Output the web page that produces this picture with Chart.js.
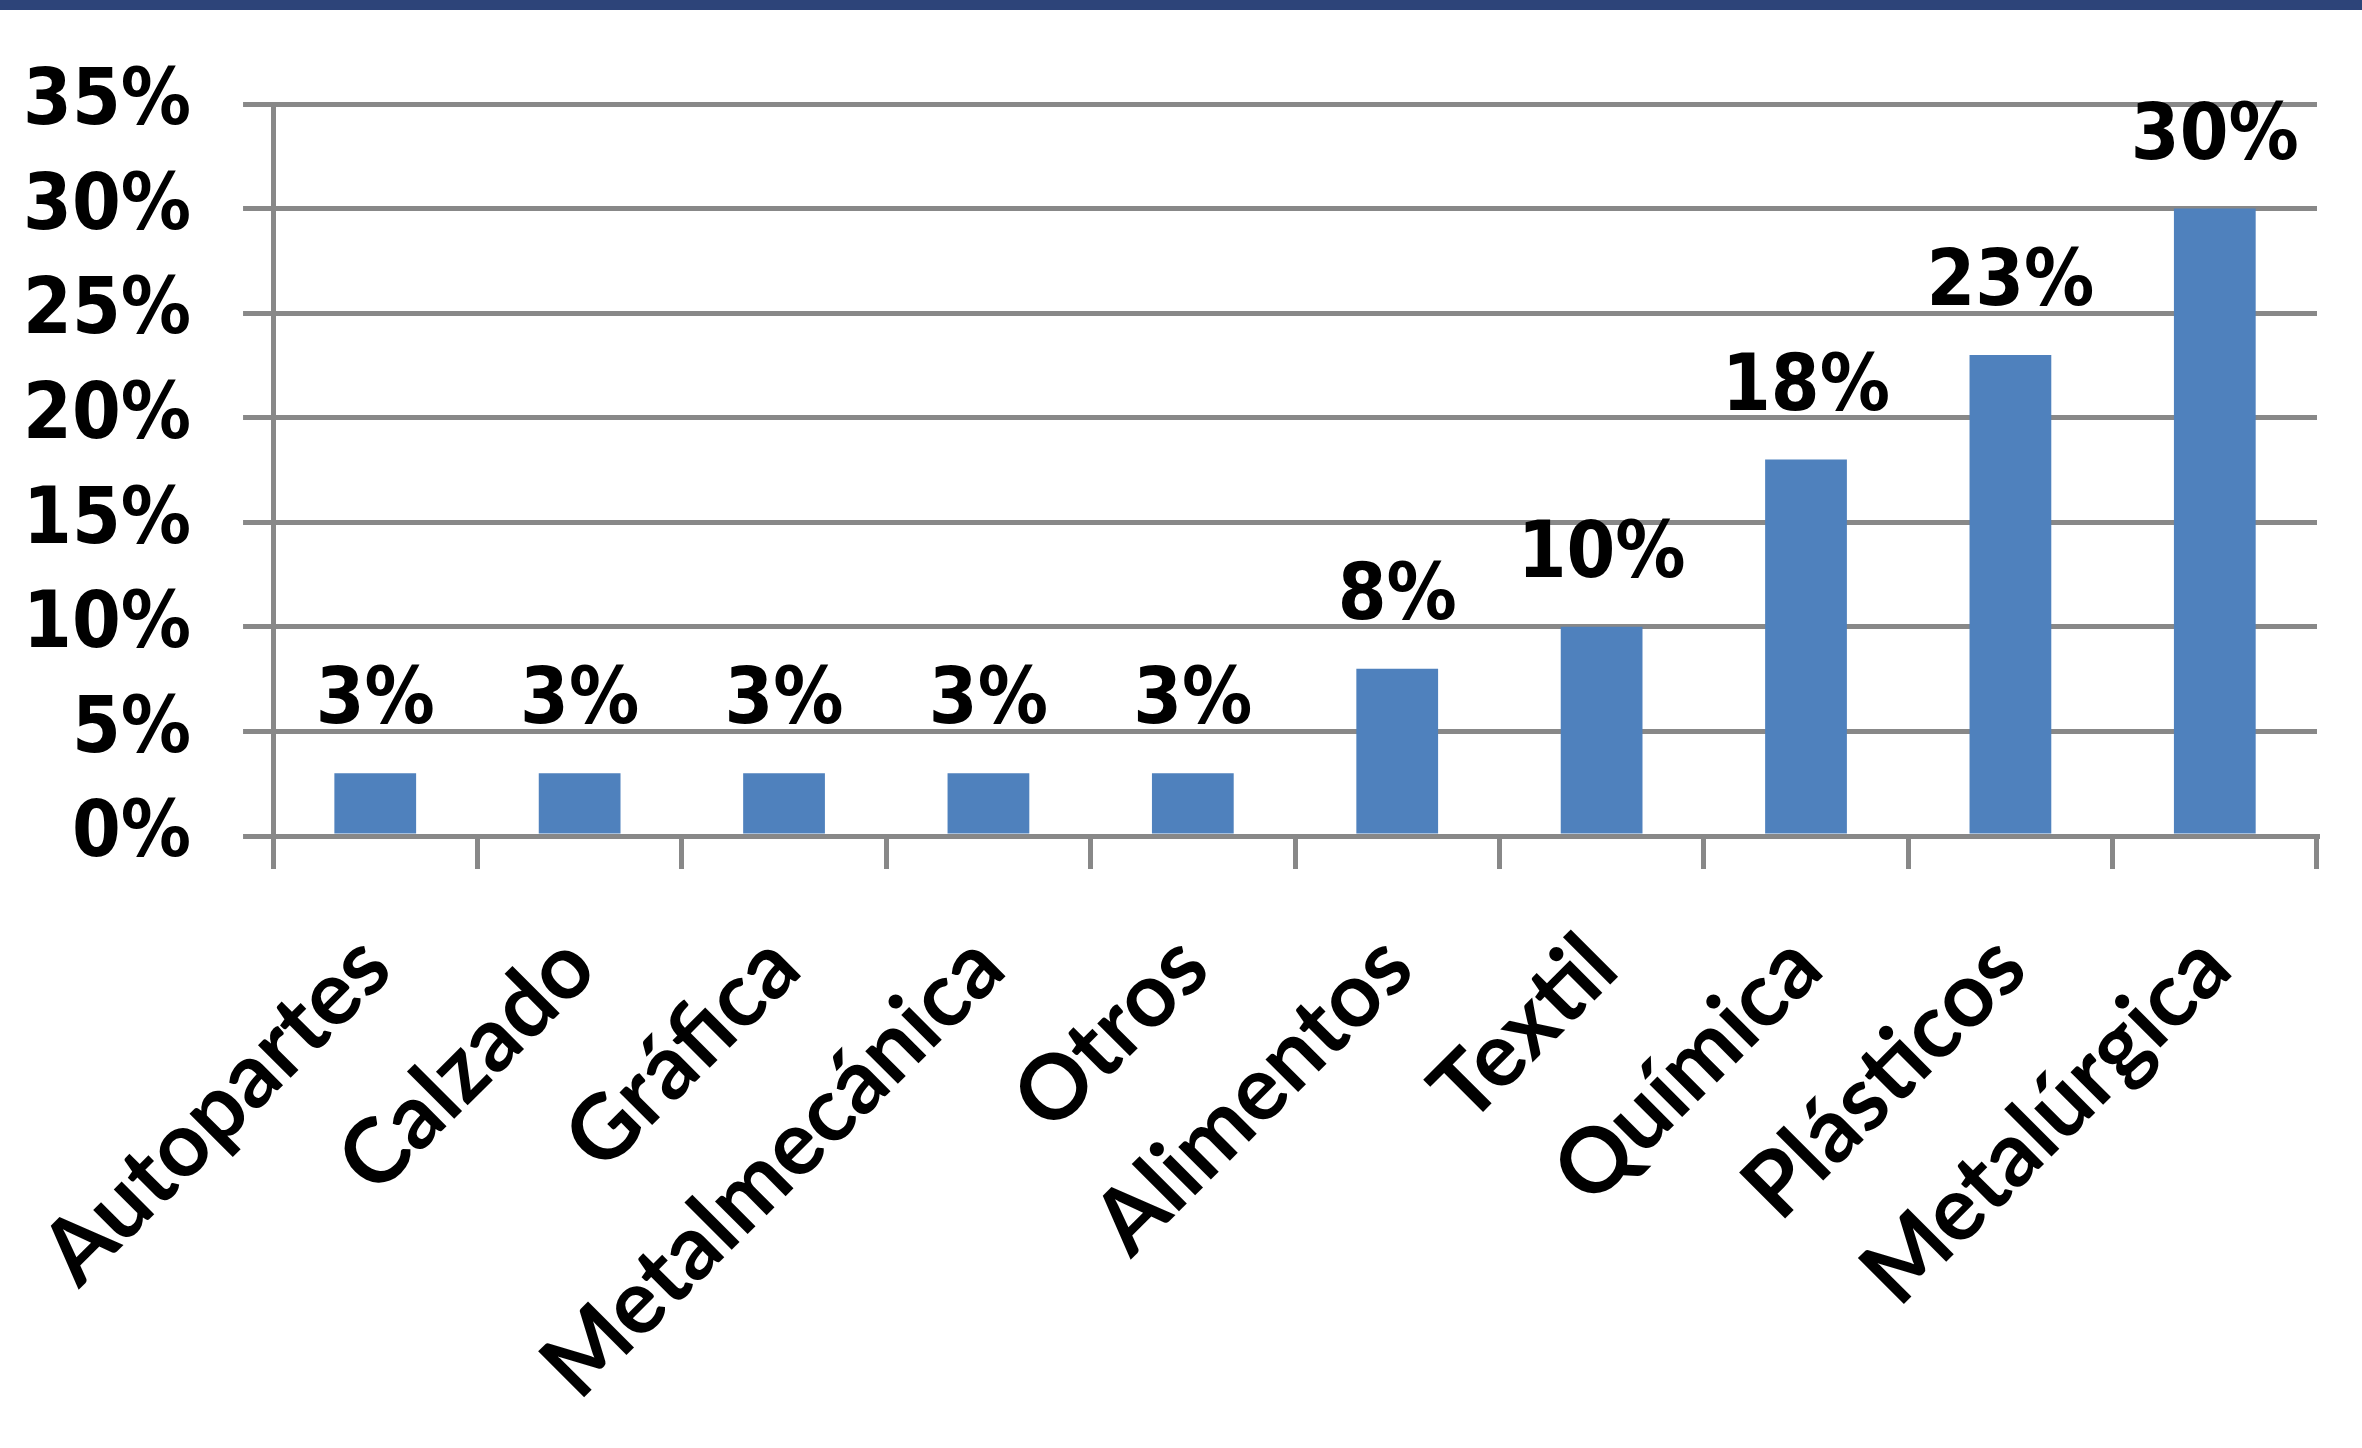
<!DOCTYPE html>
<html>
<head>
<meta charset="utf-8">
<script src="https://cdn.jsdelivr.net/npm/chart.js@4"></script>
<style>
    html, body { margin: 0; padding: 0; background: #fff; }
    #wrap { width: 2362px; height: 1448px; position: relative; }
</style>
</head>
<body>
<div id="wrap"><canvas id="sectorChart"></canvas></div>
<script>
const categories = ['Autopartes', 'Calzado', 'Gráfica', 'Metalmecánica', 'Otros', 'Alimentos', 'Textil', 'Química', 'Plásticos', 'Metalúrgica'];
const shares = [3, 3, 3, 3, 3, 8, 10, 18, 23, 30];
const yTicks = [0, 5, 10, 15, 20, 25, 30, 35];

const numFont = '"DejaVu Sans Condensed", "DejaVu Sans", sans-serif';
const catFont = 'Lato, "Open Sans", sans-serif';

// white background + dark band along the top edge
const frame = {
    id: 'frame',
    beforeDraw(chart) {
        const ctx = chart.ctx;
        ctx.save();
        ctx.fillStyle = '#ffffff';
        ctx.fillRect(0, 0, chart.width, chart.height);
        ctx.fillStyle = '#2d4479';
        ctx.fillRect(0, 0, chart.width, 10);
        ctx.restore();
    }
};

// value labels above each bar
const barLabels = {
    id: 'barLabels',
    afterDatasetsDraw(chart) {
        const ctx = chart.ctx;
        const meta = chart.getDatasetMeta(0);
        ctx.save();
        ctx.font = 'bold 78px ' + numFont;
        ctx.fillStyle = '#000';
        ctx.textAlign = 'center';
        ctx.textBaseline = 'alphabetic';
        meta.data.forEach((bar, i) => {
            ctx.fillText(shares[i] + '%', bar.x, bar.y - 50);
        });
        ctx.restore();
    }
};

const ctx = document.getElementById('sectorChart').getContext('2d');
new Chart(ctx, {
    type: 'bar',
    data: {
        labels: categories,
        datasets: [{
            data: shares,
            backgroundColor: '#4f81bd',
            barPercentage: 0.4,
            categoryPercentage: 1.0
        }]
    },
    options: {
        responsive: true,
        maintainAspectRatio: false,
        animation: false,
        devicePixelRatio: 1,
        layout: { padding: { top: 104, right: 45, left: 0, bottom: 0 } },
        plugins: {
            legend: { display: false },
            tooltip: { enabled: false }
        },
        scales: {
            x: {
                grid: {
                    drawOnChartArea: false,
                    drawTicks: true,
                    tickLength: 33,
                    color: '#888888',
                    lineWidth: 5
                },
                border: { color: '#888888', width: 5 },
                ticks: {
                    autoSkip: false,
                    maxRotation: 45,
                    minRotation: 45,
                    padding: 45,
                    color: '#000',
                    font: { family: catFont, size: 90, weight: 'bold' }
                },
                afterFit(scale) { scale.height = 612; }
            },
            y: {
                min: 0,
                max: 35,
                afterBuildTicks(scale) { scale.ticks = yTicks.map(v => ({ value: v })); },
                grid: {
                    color: '#888888',
                    lineWidth: 5,
                    tickLength: 30
                },
                border: { color: '#888888', width: 5 },
                ticks: {
                    padding: 52,
                    color: '#000',
                    font: { family: numFont, size: 78, weight: 'bold' },
                    callback: v => v + '%'
                },
                afterFit(scale) { scale.width = 267; }
            }
        }
    },
    plugins: [frame, barLabels]
});
</script>
</body>
</html>
